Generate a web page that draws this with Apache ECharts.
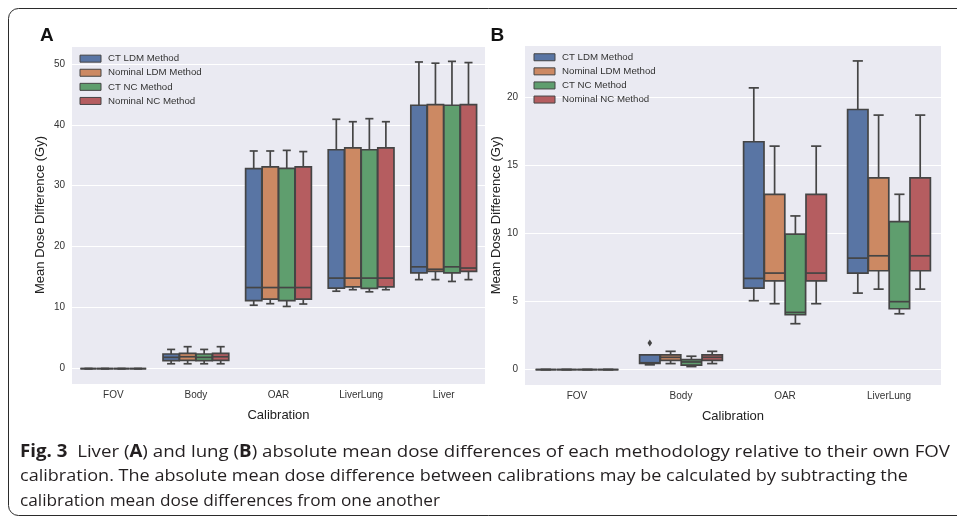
<!DOCTYPE html>
<html>
<head>
<meta charset="utf-8">
<script src="https://cdn.jsdelivr.net/npm/echarts@6/dist/echarts.min.js"></script>
<style>
  html, body { margin: 0; padding: 0; background: #ffffff; }
  #chart { width: 957px; height: 519px; }
</style>
</head>
<body>
<div id="chart"></div>
<script>
// Calibration methods (hue groups)
const methods = ['CT LDM Method', 'Nominal LDM Method', 'CT NC Method', 'Nominal NC Method'];

// Panel A: liver
const liverCategories = ['FOV', 'Body', 'OAR', 'LiverLung', 'Liver'];
// Box statistics per calibration: [lower whisker, Q1, median, Q3, upper whisker]
const liverCtLdm = [
  [0, 0, 0, 0, 0], [0.8, 1.3, 1.85, 2.4, 3.15], [10.4, 11.15, 13.3, 32.8, 35.7],
  [12.7, 13.2, 14.85, 35.9, 40.9], [14.6, 15.7, 16.7, 43.2, 50.3]
];
const liverNomLdm = [
  [0, 0, 0, 0, 0], [0.8, 1.35, 1.95, 2.5, 3.6], [10.65, 11.4, 13.3, 33.1, 35.7],
  [12.95, 13.4, 14.85, 36.2, 40.5], [14.6, 15.95, 16.3, 43.3, 50.1]
];
const liverCtNc = [
  [0, 0, 0, 0, 0], [0.8, 1.3, 1.85, 2.4, 3.15], [10.2, 11.15, 13.3, 32.85, 35.8],
  [12.6, 13.15, 14.85, 35.9, 41.0], [14.3, 15.7, 16.7, 43.2, 50.4]
];
const liverNomNc = [
  [0, 0, 0, 0, 0], [0.8, 1.35, 1.95, 2.5, 3.6], [10.6, 11.4, 13.3, 33.1, 35.6],
  [12.95, 13.4, 14.85, 36.2, 40.5], [14.6, 15.95, 16.5, 43.3, 50.2]
];

// Panel B: lung
const lungCategories = ['FOV', 'Body', 'OAR', 'LiverLung'];
const lungCtLdm = [
  [0, 0, 0, 0, 0], [0.35, 0.45, 0.5, 1.08, 1.08], [5.06, 5.99, 6.7, 16.74, 20.7],
  [5.62, 7.09, 8.19, 19.11, 22.68]
];
const lungNomLdm = [
  [0, 0, 0, 0, 0], [0.44, 0.68, 0.9, 1.08, 1.34], [4.84, 6.52, 7.09, 12.88, 16.42],
  [5.91, 7.26, 8.36, 14.08, 18.7]
];
const lungCtNc = [
  [0, 0, 0, 0, 0], [0.22, 0.32, 0.56, 0.73, 0.98], [3.37, 4.03, 4.2, 9.95, 11.29],
  [4.1, 4.47, 4.99, 10.87, 12.88]
];
const lungNomNc = [
  [0, 0, 0, 0, 0], [0.44, 0.68, 0.9, 1.08, 1.34], [4.84, 6.52, 7.09, 12.88, 16.42],
  [5.91, 7.26, 8.36, 14.08, 18.7]
];
// Outliers: [category index, value]
const lungCtLdmOutliers = [[1, 1.96]];

const palette = ['#5975a4', '#cc8963', '#5f9e6e', '#b55d60'];
const edge = '#454545';
const sans = '"Liberation Sans", Arial, Helvetica, sans-serif';

// Axis limits padded by 5% of the data range on each side
function paddedRange(groups) {
  let lo = Infinity, hi = -Infinity;
  groups.forEach(g => g.forEach(v => { lo = Math.min(lo, v); hi = Math.max(hi, v); }));
  const pad = (hi - lo) * 0.05;
  return [lo - pad, hi + pad];
}
const flatStats = s => s.reduce((a, r) => a.concat(r), []);
const liverRange = paddedRange([liverCtLdm, liverNomLdm, liverCtNc, liverNomNc].map(flatStats));
const lungRange = paddedRange([lungCtLdm, lungNomLdm, lungCtNc, lungNomNc].map(flatStats)
  .concat([lungCtLdmOutliers.map(o => o[1])]));

function makeRenderer(hueIndex, hueCount, outliers) {
  return function (params, api) {
    const cat = api.value(0);
    const band = api.size([1, 0])[0];
    const hueW = band * 0.8 / hueCount;
    const cx = api.coord([cat, 0])[0] + (hueIndex - (hueCount - 1) / 2) * hueW;
    const w = hueW * 0.98;
    const y = v => api.coord([cat, v])[1];
    const lo = y(api.value(1)), q1 = y(api.value(2)), med = y(api.value(3));
    const q3 = y(api.value(4)), hi = y(api.value(5));
    const ls = { stroke: edge, lineWidth: 1.7 };
    const children = [
      { type: 'line', shape: { x1: cx, y1: q1, x2: cx, y2: lo }, style: ls },
      { type: 'line', shape: { x1: cx, y1: q3, x2: cx, y2: hi }, style: ls },
      { type: 'line', shape: { x1: cx - w / 4, y1: lo, x2: cx + w / 4, y2: lo }, style: ls },
      { type: 'line', shape: { x1: cx - w / 4, y1: hi, x2: cx + w / 4, y2: hi }, style: ls },
      { type: 'rect', shape: { x: cx - w / 2, y: q3, width: w, height: q1 - q3 },
        style: { fill: api.visual('color'), stroke: edge, lineWidth: 1.7 } },
      { type: 'line', shape: { x1: cx - w / 2, y1: med, x2: cx + w / 2, y2: med }, style: ls }
    ];
    (outliers || []).filter(o => o[0] === cat).forEach(o => {
      const oy = y(o[1]);
      children.push({ type: 'polygon',
        shape: { points: [[cx, oy - 3.5], [cx + 2.3, oy], [cx, oy + 3.5], [cx - 2.3, oy]] },
        style: { fill: edge } });
    });
    return { type: 'group', children };
  };
}

function boxSeries(name, stats, idx, axisIdx, outliers) {
  return {
    type: 'custom', name: name,
    xAxisIndex: axisIdx, yAxisIndex: axisIdx,
    itemStyle: { color: palette[idx] },
    encode: { x: 0, y: [1, 2, 3, 4, 5] },
    data: stats.map((s, i) => [i].concat(s)),
    renderItem: makeRenderer(idx, methods.length, outliers)
  };
}

function xAxisFor(cats, gridIndex, nameGap) {
  return {
    type: 'category', gridIndex, data: cats,
    axisLine: { show: false }, axisTick: { show: false }, splitLine: { show: false },
    axisLabel: { color: '#333', fontSize: 10, fontFamily: sans, margin: 6 },
    name: 'Calibration', nameLocation: 'middle', nameGap: nameGap,
    nameTextStyle: { color: '#222', fontSize: 13, fontFamily: sans }
  };
}
function yAxisFor(range, gridIndex, nameGap) {
  return {
    type: 'value', gridIndex, min: range[0], max: range[1],
    axisLine: { show: false }, axisTick: { show: false },
    splitLine: { show: true, lineStyle: { color: '#ffffff', width: 1.2 } },
    axisLabel: { color: '#333', fontSize: 10, fontFamily: sans, margin: 7,
                 showMinLabel: false, showMaxLabel: false },
    name: 'Mean Dose Difference (Gy)', nameLocation: 'middle', nameGap: nameGap,
    nameTextStyle: { color: '#222', fontSize: 13, fontFamily: sans }
  };
}
function legendAt(left, top) {
  return {
    data: methods, orient: 'vertical', left, top, padding: 0, itemGap: 0,
    itemWidth: 21, itemHeight: 7, icon: 'rect', selectedMode: false,
    itemStyle: { borderColor: edge, borderWidth: 1 },
    textStyle: { color: '#333', fontSize: 9.7, fontFamily: sans, lineHeight: 14.1,
                 padding: [0, 0, 0, 2] }
  };
}

// Caption text, with bold runs; each line is fitted to its set width
const captionFont = '"Open Sans", "Noto Sans", sans-serif';
const captionSize = 17;
const captionLines = [
  [['Fig. 3', true], ['  Liver (', false], ['A', true], [') and lung (', false], ['B', true],
   [') absolute mean dose differences of each methodology relative to their own FOV', false]],
  [['calibration. The absolute mean dose difference between calibrations may be calculated by subtracting the', false]],
  [['calibration mean dose differences from one another', false]]
];
const captionWidths = [930, 888, 420];
const captionY = [452, 476.5, 501];
const measureCtx = document.createElement('canvas').getContext('2d');
function runWidth(runs) {
  return runs.reduce((acc, r) => {
    measureCtx.font = (r[1] ? 'bold ' : '') + captionSize + 'px ' + captionFont;
    return acc + measureCtx.measureText(r[0]).width;
  }, 0);
}
const captionGraphics = captionLines.map((runs, i) => ({
  type: 'text', x: 20, y: captionY[i], scaleX: captionWidths[i] / runWidth(runs),
  style: {
    text: runs.map(r => r[1] ? '{b|' + r[0] + '}' : r[0]).join(''),
    fontSize: captionSize, fontFamily: captionFont, fill: '#231f20',
    verticalAlign: 'middle',
    rich: { b: { fontWeight: 'bold', fontSize: captionSize, fontFamily: captionFont, fill: '#231f20' } }
  }
}));

const chart = echarts.init(document.getElementById('chart'), null, { renderer: 'canvas' });
chart.setOption({
  animation: false,
  backgroundColor: '#ffffff',
  color: palette,
  grid: [
    { left: 72, top: 46, width: 413, height: 338, show: true, backgroundColor: '#eaeaf2', borderWidth: 0 },
    { left: 525, top: 45.5, width: 416, height: 339.5, show: true, backgroundColor: '#eaeaf2', borderWidth: 0 }
  ],
  xAxis: [xAxisFor(liverCategories, 0, 24.5), xAxisFor(lungCategories, 1, 25)],
  yAxis: [yAxisFor(liverRange, 0, 25), yAxisFor(lungRange, 1, 22.5)],
  legend: [legendAt(79.5, 51.6), legendAt(533.5, 50.2)],
  series: [
    boxSeries(methods[0], liverCtLdm, 0, 0),
    boxSeries(methods[1], liverNomLdm, 1, 0),
    boxSeries(methods[2], liverCtNc, 2, 0),
    boxSeries(methods[3], liverNomNc, 3, 0),
    boxSeries(methods[0], lungCtLdm, 0, 1, lungCtLdmOutliers),
    boxSeries(methods[1], lungNomLdm, 1, 1),
    boxSeries(methods[2], lungCtNc, 2, 1),
    boxSeries(methods[3], lungNomNc, 3, 1)
  ],
  graphic: [
    { type: 'rect', shape: { x: 8.5, y: 8.5, width: 1000, height: 507, r: 10 },
      style: { fill: 'none', stroke: '#2b2b2b', lineWidth: 1 }, silent: true },
    { type: 'text', x: 40, y: 36,
      style: { text: 'A', fontSize: 19, fontWeight: 'bold', fontFamily: sans, fill: '#111', verticalAlign: 'middle' } },
    { type: 'text', x: 490.5, y: 36,
      style: { text: 'B', fontSize: 19, fontWeight: 'bold', fontFamily: sans, fill: '#111', verticalAlign: 'middle' } }
  ].concat(captionGraphics)
});
</script>
</body>
</html>
